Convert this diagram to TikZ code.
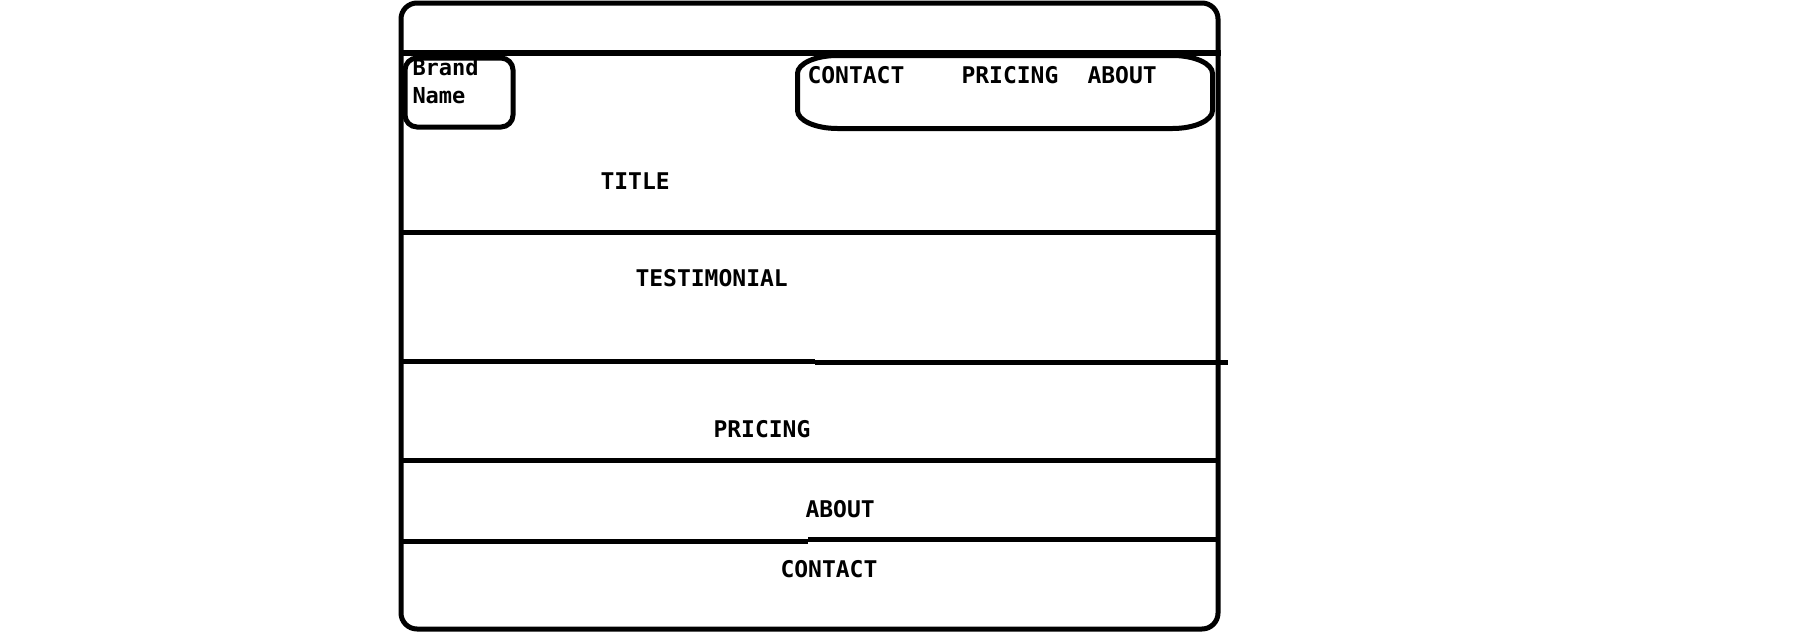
\documentclass[tikz,border=0pt]{standalone}
\usepackage{fontspec}
\newfontfamily\wirefont{DejaVu Sans Mono}
\begin{document}
\begin{tikzpicture}[x=1pt,y=-1pt,line width=5pt,
    lbl/.style={anchor=base west,inner sep=0pt,font=\wirefont\bfseries\fontsize{23}{27}\selectfont},
    menubox/.style={draw,line width=5pt,inner sep=0pt}]
    \useasboundingbox (0,0) rectangle (1796,632);

    % Rahmen
    \draw[rounded corners=16pt] (401,3) rectangle (1218,629);
    \draw[line width=6pt] (401,53) -- (1221,53);

    % Kopfzeile
    \node[menubox,rounded corners=12pt,minimum width=108pt,minimum height=69pt] (brandbox) at (459,92.5) {};
    \node[inner sep=0pt,minimum width=410pt,minimum height=68pt] (navbox) at (1005,92) {};
    \draw (navbox.north west) ++(40,0) -- ([xshift=-40pt]navbox.north east)
        .. controls ([xshift=-18pt]navbox.north east) and ([yshift=-8pt]navbox.north east) .. ([yshift=-18pt]navbox.north east)
        -- ([yshift=18pt]navbox.south east)
        .. controls ([yshift=8pt]navbox.south east) and ([xshift=-18pt]navbox.south east) .. ([xshift=-40pt]navbox.south east)
        -- ([xshift=40pt]navbox.south west)
        .. controls ([xshift=18pt]navbox.south west) and ([yshift=8pt]navbox.south west) .. ([yshift=18pt]navbox.south west)
        -- ([yshift=-18pt]navbox.north west)
        .. controls ([yshift=-8pt]navbox.north west) and ([xshift=18pt]navbox.north west) .. ([xshift=40pt]navbox.north west);
    \node[lbl,font=\wirefont\bfseries\fontsize{22}{26}\selectfont] (brand) at (410,75) {Brand};
    \node[lbl,font=\wirefont\bfseries\fontsize{22}{26}\selectfont] (name) at (410,103) {Name};
    \node[lbl] (navcontact) at (805,83) {CONTACT};
    \node[lbl] (navpricing) at (959,83) {PRICING};
    \node[lbl] (navabout) at (1085,83) {ABOUT};

    % Abschnitte
    \draw (401,232.5) -- (1220,232.5);
    \draw (401,361) -- (815,361) (815,362.5) -- (1228,362.5);
    \draw (401,460.5) -- (1218,460.5);
    \draw (401,541.5) -- (808,541.5) (808,539.5) -- (1218,539.5);

    \node[lbl] (title) at (598,189) {TITLE};
    \node[lbl] (testimonial) at (633,286) {TESTIMONIAL};
    \node[lbl] (pricing) at (711,437) {PRICING};
    \node[lbl] (about) at (803,517) {ABOUT};
    \node[lbl] (contact) at (778,577) {CONTACT};
\end{tikzpicture}
\end{document}
